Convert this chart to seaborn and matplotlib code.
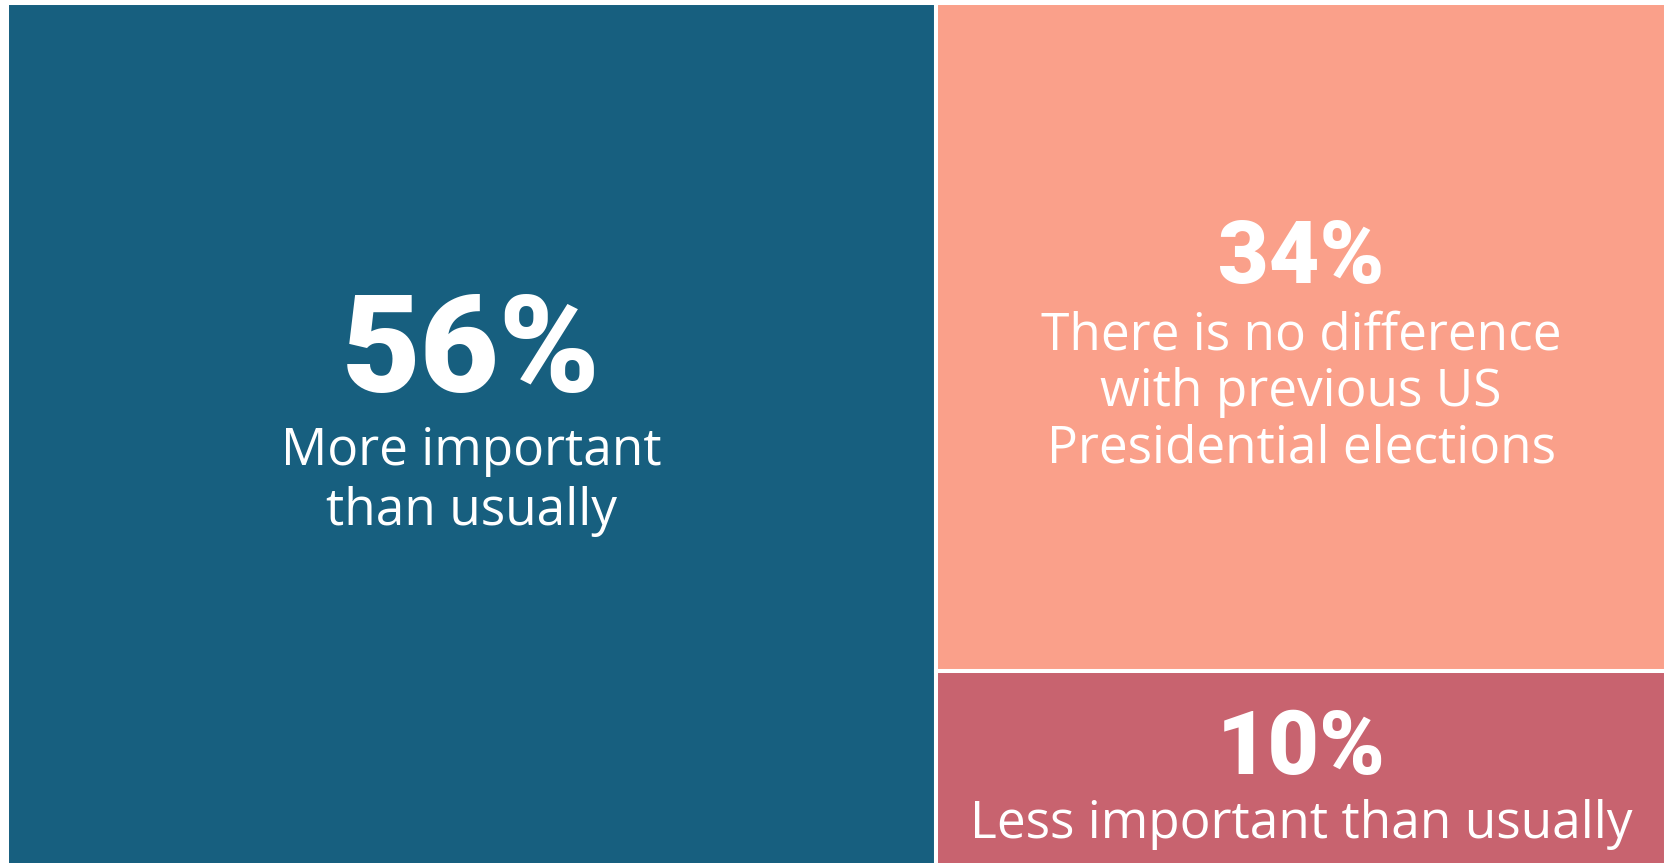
import matplotlib
matplotlib.use("Agg")
import matplotlib.pyplot as plt
import seaborn as sns

# Survey answers and their shares (%)
answers = [
    "More important\nthan usually",
    "There is no difference\nwith previous US\nPresidential elections",
    "Less important than usually",
]
shares = [56, 34, 10]
colors = ["#175f7f", "#faa08a", "#c8636f"]

sns.set_theme(style="white")
plt.rcParams["font.family"] = ["Open Sans", "DejaVu Sans"]

W, H = 1664, 863
fig = plt.figure(figsize=(W / 100, H / 100), dpi=100)
fig.patch.set_facecolor("white")
ax = fig.add_axes([7 / W, -4.5 / H, 1659 / W, 864.5 / H])
ax.set_xlim(0, 100)
ax.set_ylim(0, 100)
ax.axis("off")

# treemap layout: the biggest answer takes a full column, the others stack on the right
total = sum(shares)
w0 = shares[0] / total * 100
rest = sum(shares[1:])
rects = [(0, 0, w0, 100)]
top = 100
for s in shares[1:]:
    h = s / rest * 100
    rects.append((w0, top - h, 100 - w0, h))
    top -= h

for (x, y, w, h), c in zip(rects, colors):
    ax.bar(x, h, width=w, bottom=y, align="edge", color=c,
           edgecolor="white", linewidth=2.9)

# text offsets from tile centre, in pixels (up is positive)
pct_dy = [43.5, 54, -4.5]
line_dy = [-29.5, -12, -68.5]
line_step = [60, 56.5, 0]
pct_size = [98, 63, 64]

px = 72 / 100
for i, ((x, y, w, h), label, s) in enumerate(zip(rects, answers, shares)):
    cx, cy = x + w / 2, y + h / 2
    ax.annotate(f"{s}%", xy=(cx, cy), xytext=(0, pct_dy[i] * px),
                textcoords="offset points", ha="center", va="baseline",
                color="white", fontsize=pct_size[i], fontweight="black",
                family=["Roboto", "DejaVu Sans"])
    for j, line in enumerate(label.split("\n")):
        ax.annotate(line, xy=(cx, cy),
                    xytext=(0, (line_dy[i] - j * line_step[i]) * px),
                    textcoords="offset points", ha="center", va="baseline",
                    color="white", fontsize=37, fontweight="normal")

fig.savefig("out.png", dpi=100, facecolor="white")
